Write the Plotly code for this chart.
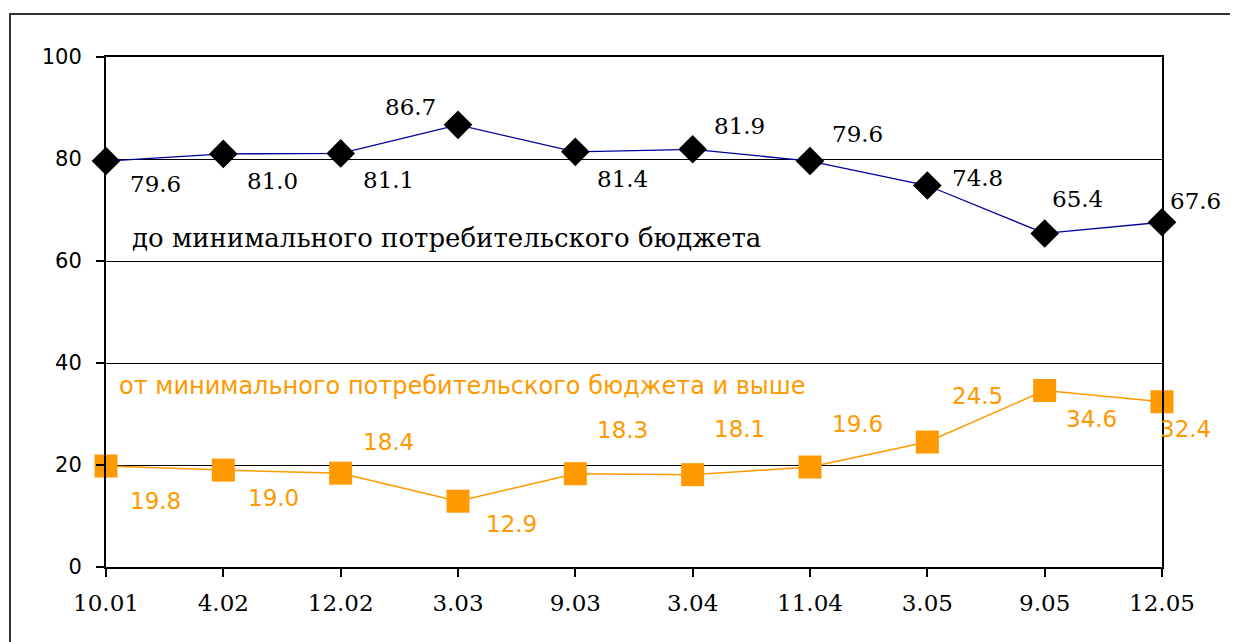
import plotly.graph_objects as go

dates = ["10.01", "4.02", "12.02", "3.03", "9.03", "3.04", "11.04", "3.05", "9.05", "12.05"]
below_min = [79.6, 81.0, 81.1, 86.7, 81.4, 81.9, 79.6, 74.8, 65.4, 67.6]
above_min = [19.8, 19.0, 18.4, 12.9, 18.3, 18.1, 19.6, 24.5, 34.6, 32.4]
y_ticks = [0, 20, 40, 60, 80, 100]
name_below = "до минимального потребительского бюджета"
name_above = "от минимального потребительского бюджета и выше"

# label offsets (pixels) relative to each point
off_below = [(49, -23), (49, -27), (48, -27), (-48, 18), (47, -27), (47, 23), (47, 27), (50, 8), (33, 34), (33, 21)]
off_above = [(49, -35), (50, -28), (48, 31), (53, -23), (47, 44), (47, 46), (47, 43), (50, 46), (47, -28), (23, -27)]

ORANGE = "#FF9900"
BLUE = "#000099"
FONT = "DejaVu Sans"
SERIF = "DejaVu Serif"

x_idx = list(range(len(dates)))

fig = go.Figure()
fig.add_trace(go.Scatter(
    x=x_idx, y=below_min, mode="lines+markers",
    line=dict(color=BLUE, width=1.3),
    marker=dict(symbol="diamond", size=22, color="black"),
    cliponaxis=False, showlegend=False, name=name_below,
))
fig.add_trace(go.Scatter(
    x=x_idx, y=above_min, mode="lines+markers",
    line=dict(color=ORANGE, width=1.5),
    marker=dict(symbol="square", size=23, color=ORANGE),
    cliponaxis=False, showlegend=False, name=name_above,
))

annotations = []
for i, v in enumerate(below_min):
    dx, dy = off_below[i]
    annotations.append(dict(x=i, y=v, xref="x", yref="y", text=f"{v:.1f}", showarrow=False,
                            xshift=dx, yshift=dy, font=dict(family=SERIF, size=23, color="black")))
for i, v in enumerate(above_min):
    dx, dy = off_above[i]
    annotations.append(dict(x=i, y=v, xref="x", yref="y", text=f"{v:.1f}", showarrow=False,
                            xshift=dx, yshift=dy, font=dict(family=FONT, size=23, color=ORANGE)))

annotations.append(dict(x=0.0227, y=0.645, xref="paper", yref="paper", text=name_below,
                        showarrow=False, xanchor="left", yanchor="middle",
                        font=dict(family=SERIF, size=26, color="black")))
annotations.append(dict(x=0.0104, y=0.355, xref="paper", yref="paper", text=name_above,
                        showarrow=False, xanchor="left", yanchor="middle",
                        font=dict(family=FONT, size=24, color=ORANGE)))

fig.update_layout(
    width=1238, height=642,
    margin=dict(l=98, r=84, t=49, b=83),
    paper_bgcolor="white", plot_bgcolor="white",
    annotations=annotations,
    shapes=[dict(type="rect", xref="paper", yref="paper",
                 x0=-0.0909, x1=1.0672, y0=-0.18, y1=1.0843,
                 line=dict(color="#333333", width=2), layer="below")],
    xaxis=dict(range=[0, 9], tickvals=x_idx, ticktext=dates, showgrid=False,
               showline=True, linecolor="black", linewidth=2, mirror=True,
               ticks="outside", ticklen=8, tickcolor="black", tickwidth=2,
               tickfont=dict(family=SERIF, size=23, color="black"),
               ticklabelstandoff=6, zeroline=False),
    yaxis=dict(range=[0, 100], tickvals=y_ticks, showgrid=True, gridcolor="black", gridwidth=1.3,
               showline=True, linecolor="black", linewidth=2, mirror=True,
               ticks="outside", ticklen=8, tickcolor="black", tickwidth=2,
               tickfont=dict(family=FONT, size=21, color="black"),
               ticklabelstandoff=10, zeroline=False),
)

fig.write_html("out.html")
